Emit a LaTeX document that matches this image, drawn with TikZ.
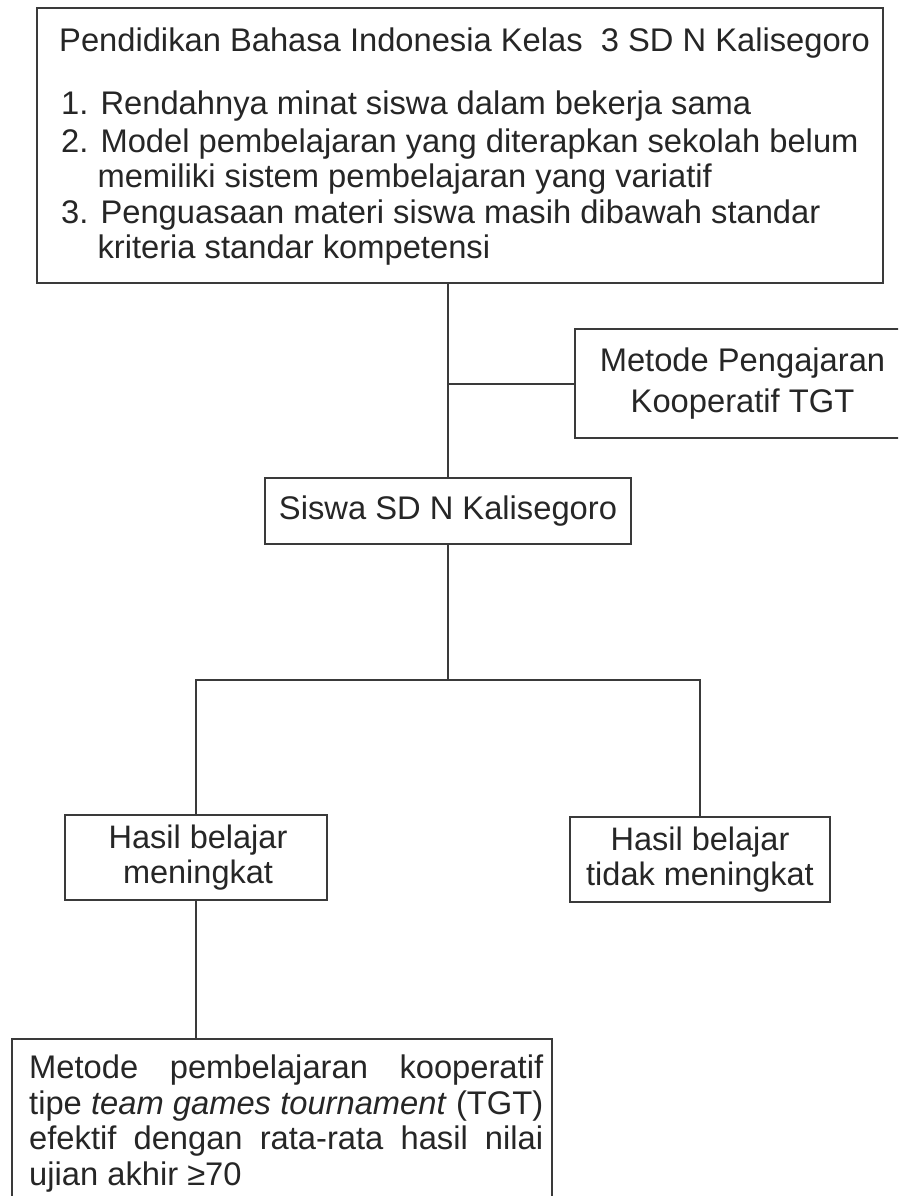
\documentclass[tikz,border=0pt]{standalone}
\usepackage{fontspec}
\setmainfont{Liberation Sans}
\definecolor{ln}{HTML}{3A3A3A}
\definecolor{tx}{HTML}{262626}
\tikzset{
  box/.style={draw=ln, line width=2pt, inner sep=0pt, rectangle},
  conn/.style={draw=ln, line width=2pt},
  txt/.style={text=tx, inner sep=0pt, font=\fontsize{32.7}{36}\selectfont},
}
\begin{document}
\begin{tikzpicture}[x=1pt,y=-1pt]
\useasboundingbox (0,0) rectangle (898,1196);
\clip (0,0) rectangle (898,1196);
\fill[white] (0,0) rectangle (898,1196);

% top box
\node[box, minimum width=846pt, minimum height=275pt] (top) at (460,145.5) {};
\node[txt, anchor=base west] (title) at (59,52) {Pendidikan Bahasa Indonesia Kelas\ \ 3 SD N Kalisegoro};
\node[txt, anchor=base west] (i1) at (61,115) {1. Rendahnya minat siswa dalam bekerja sama};
\node[txt, anchor=base west] (i2) at (61,152) {2. Model pembelajaran yang diterapkan sekolah belum};
\node[txt, anchor=base west] (i2b) at (61,187) {\hphantom{2.\ }memiliki sistem pembelajaran yang variatif};
\node[txt, anchor=base west] (i3) at (61,223) {3. Penguasaan materi siswa masih dibawah standar};
\node[txt, anchor=base west] (i3b) at (61,258) {\hphantom{3.\ }kriteria standar kompetensi};

% metode box
\node[box, minimum width=335pt, minimum height=109pt] (metode) at (742.5,383.5) {};
\node[txt, align=center, font=\fontsize{32.7}{41}\selectfont] (metodetext) at (742.5,383.5) {Metode Pengajaran\\Kooperatif TGT};

% siswa box
\node[box, minimum width=366pt, minimum height=66pt, txt, draw=ln, line width=2pt] (siswa) at (448,511) {Siswa SD N Kalisegoro};

% hasil boxes
\node[box, minimum width=262pt, minimum height=85pt] (hasila) at (196,857.5) {};
\node[txt, align=center, font=\fontsize{32.5}{34.5}\selectfont] (hasilatext) at (198,857.5) {Hasil belajar\\meningkat};
\node[box, minimum width=260pt, minimum height=85pt] (hasilb) at (700,859.5) {};
\node[txt, align=center, font=\fontsize{32.5}{34.5}\selectfont] (hasilbtext) at (700,859.5) {Hasil belajar\\tidak meningkat};

% bottom box
\node[box, minimum width=540pt, minimum height=180pt] (bottom) at (282,1129) {};
\node[txt, anchor=north west, text width=514pt, align=justify, font=\fontsize{32.7}{35.7}\selectfont] (bottomtext) at (29,1054.5)
  {\hyphenpenalty=10000 Metode pembelajaran kooperatif\linebreak tipe \textit{team games tournament} (TGT)\linebreak efektif dengan rata-rata hasil nilai\linebreak ujian akhir ≥70};

% connectors
\draw[conn] (siswa.north |- top.south) -- (siswa.north);
\draw[conn] (metode.west) -- (metode.west -| siswa.north);
\draw[conn] (siswa.south) -- ++(0,135) coordinate (br);
\draw[conn] (hasila.north) |- (br) -| (hasilb.north);
\draw[conn] (hasila.south) -- (hasila.south |- bottom.north);
\end{tikzpicture}
\end{document}
